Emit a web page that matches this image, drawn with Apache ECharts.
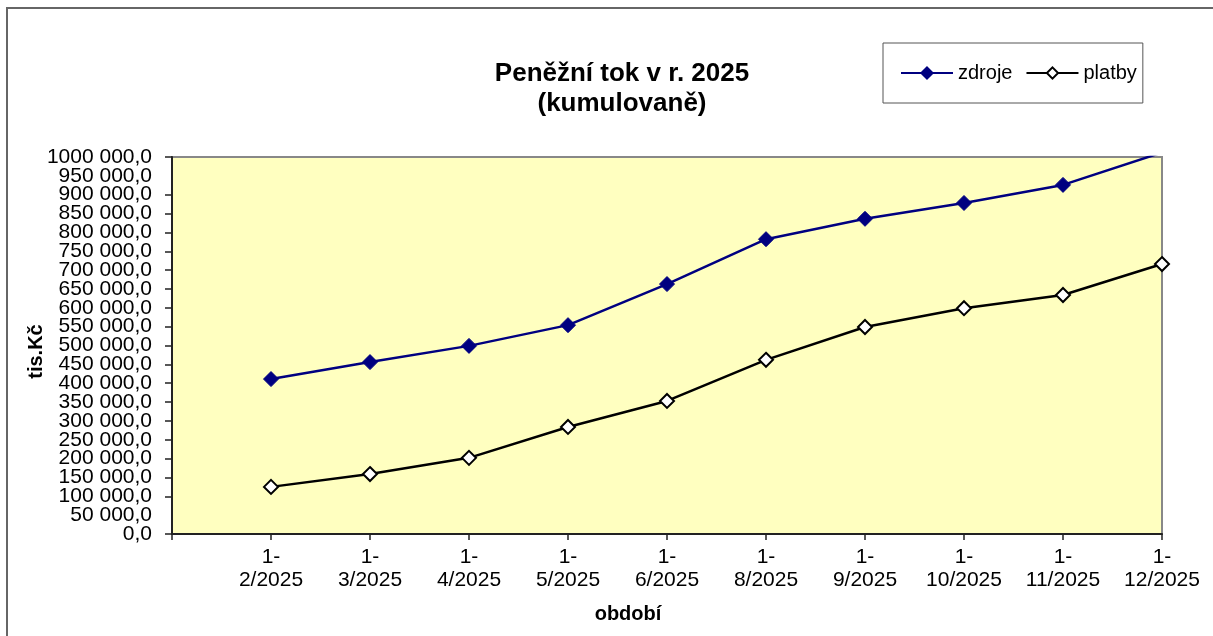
<!DOCTYPE html>
<html>
<head>
<meta charset="utf-8">
<script src="https://cdn.jsdelivr.net/npm/echarts@6/dist/echarts.min.js"></script>
<style>
  html, body { margin: 0; padding: 0; background: #fff; }
  #chart { width: 1213px; height: 636px; }
</style>
</head>
<body>
<div id="chart"></div>
<script>
// obdobi (first slot on the axis is left empty, like in the original)
const periods = ['1-\n2/2025', '1-\n3/2025', '1-\n4/2025', '1-\n5/2025', '1-\n6/2025',
  '1-\n8/2025', '1-\n9/2025', '1-\n10/2025', '1-\n11/2025', '1-\n12/2025'];
const zdroje = [411000, 456000, 499000, 554000, 663000, 782000, 836000, 878000, 926000, 1012000];
const platby = [125000, 159000, 202000, 284000, 353000, 462000, 549000, 599000, 634000, 716000];

const font = '"Liberation Sans", Arial, sans-serif';

function fmt(v) {
  let th = Math.floor(v / 1000);
  let rest = v % 1000;
  if (th > 0) {
    return th + ' ' + String(rest).padStart(3, '0') + ',0';
  }
  return rest + ',0';
}

// echarts hides labels next to min/max when they touch, so the two
// neighbours (50 000 and 950 000) go on a second, label-only axis
function fmtNeighbours(v) {
  if (v === 50000 || v === 950000) return fmt(v);
  return '';
}

const yLabel = { margin: 20, fontSize: 21, color: '#000', fontFamily: font };

let myChart = echarts.init(document.getElementById('chart'));
let option = {
  animation: false,
  textStyle: { fontFamily: font },
  title: {
    text: 'Peněžní tok v r. 2025\n(kumulovaně)',
    left: 617,
    top: 54,
    textAlign: 'center',
    textStyle: { fontFamily: font, fontSize: 26, fontWeight: 'bold', color: '#000', lineHeight: 30 }
  },
  legend: {
    left: 883,
    top: 43,
    padding: [20, 6, 20, 17],
    borderColor: '#555',
    borderWidth: 1,
    itemWidth: 52,
    itemHeight: 14,
    itemGap: 13,
    textStyle: { fontFamily: font, fontSize: 20, color: '#000' },
    data: ['zdroje', 'platby']
  },
  graphic: [{
    type: 'rect',
    z: -10,
    shape: { x: 7, y: 8, width: 1240, height: 680 },
    style: { fill: 'none', stroke: '#666', lineWidth: 2 }
  }],
  grid: {
    left: 172,
    right: 51,
    top: 157,
    bottom: 102,
    outerBoundsMode: 'none',
    show: true,
    backgroundColor: '#FFFFC0',
    borderColor: '#888',
    borderWidth: 2
  },
  xAxis: {
    type: 'category',
    boundaryGap: false,
    data: [''].concat(periods),
    name: 'období',
    nameLocation: 'middle',
    nameGap: 70,
    nameMoveOverlap: false,
    nameTextStyle: { fontFamily: font, fontSize: 20, fontWeight: 'bold', color: '#000', padding: [0, 78, 0, 0] },
    axisLine: { lineStyle: { color: '#222', width: 2 } },
    axisTick: { alignWithLabel: true, length: 6, lineStyle: { color: '#222', width: 1.5 } },
    axisLabel: { interval: 0, margin: 12, lineHeight: 23, fontSize: 21, color: '#000', fontFamily: font },
    splitLine: { show: false }
  },
  yAxis: [{
    type: 'value',
    min: 0,
    max: 1000000,
    interval: 50000,
    name: 'tis.Kč',
    nameLocation: 'middle',
    nameGap: 126,
    nameMoveOverlap: false,
    nameTextStyle: { fontFamily: font, fontSize: 20, fontWeight: 'bold', color: '#000', padding: [0, 12, 0, 0] },
    axisLine: { show: true, lineStyle: { color: '#222', width: 2 } },
    axisTick: { show: true, length: 7, lineStyle: { color: '#222', width: 1.5 } },
    axisLabel: Object.assign({ formatter: fmt, showMinLabel: true, showMaxLabel: true }, yLabel),
    splitLine: { show: false }
  }, {
    type: 'value',
    position: 'left',
    min: 0,
    max: 1000000,
    interval: 50000,
    axisLine: { show: false },
    axisTick: { show: false },
    axisLabel: Object.assign({ formatter: fmtNeighbours, showMinLabel: false, showMaxLabel: false }, yLabel),
    splitLine: { show: false }
  }],
  series: [{
    name: 'zdroje',
    type: 'line',
    data: [null].concat(zdroje),
    clip: true,
    symbol: 'diamond',
    symbolSize: 15,
    lineStyle: { color: '#000080', width: 2.5 },
    itemStyle: { color: '#000080', borderColor: '#000080', borderWidth: 1 }
  }, {
    name: 'platby',
    type: 'line',
    data: [null].concat(platby),
    clip: true,
    symbol: 'diamond',
    symbolSize: 14,
    lineStyle: { color: '#000', width: 2.5 },
    itemStyle: { color: '#fff', borderColor: '#000', borderWidth: 2 }
  }]
};
myChart.setOption(option);
</script>
</body>
</html>
